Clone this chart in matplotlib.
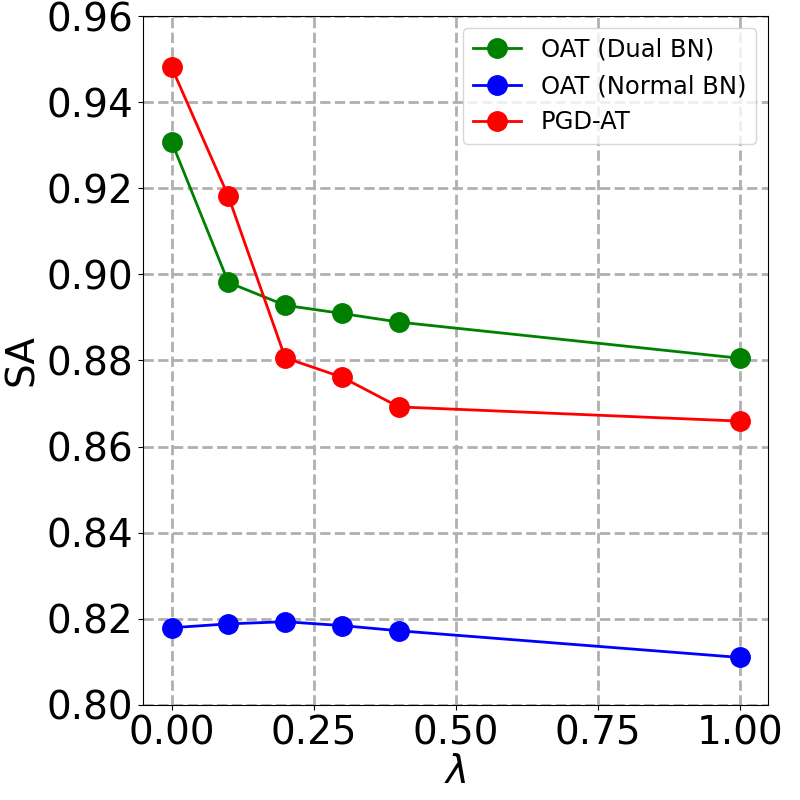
import matplotlib
matplotlib.use("Agg")
import matplotlib.pyplot as plt

lam = [0.0, 0.1, 0.2, 0.3, 0.4, 1.0]
sa_dual_bn = [0.9308, 0.8981, 0.8928, 0.8909, 0.8889, 0.8805]
sa_normal_bn = [0.8179, 0.8188, 0.8193, 0.8184, 0.8172, 0.8110]
sa_pgd_at = [0.9481, 0.9181, 0.8806, 0.8761, 0.8692, 0.8659]

fig = plt.figure(figsize=(8, 8), dpi=100)
ax = fig.add_subplot(111)
fig.subplots_adjust(left=0.179, right=0.96, top=0.98, bottom=0.119)

ax.plot(lam, sa_dual_bn, color='green', marker='o', markersize=14, linewidth=2, label='OAT (Dual BN)')
ax.plot(lam, sa_normal_bn, color='blue', marker='o', markersize=14, linewidth=2, label='OAT (Normal BN)')
ax.plot(lam, sa_pgd_at, color='red', marker='o', markersize=14, linewidth=2, label='PGD-AT')

ax.set_ylim(0.80, 0.96)
ax.set_xlabel(r'$\lambda$', fontsize=28, labelpad=0)
ax.set_ylabel('SA', fontsize=28)
ax.tick_params(labelsize=28)
ax.grid(True, linestyle='--', linewidth=2, color='#b0b0b0')
ax.legend(fontsize=17.5, loc='upper right')

fig.savefig('out.png')
